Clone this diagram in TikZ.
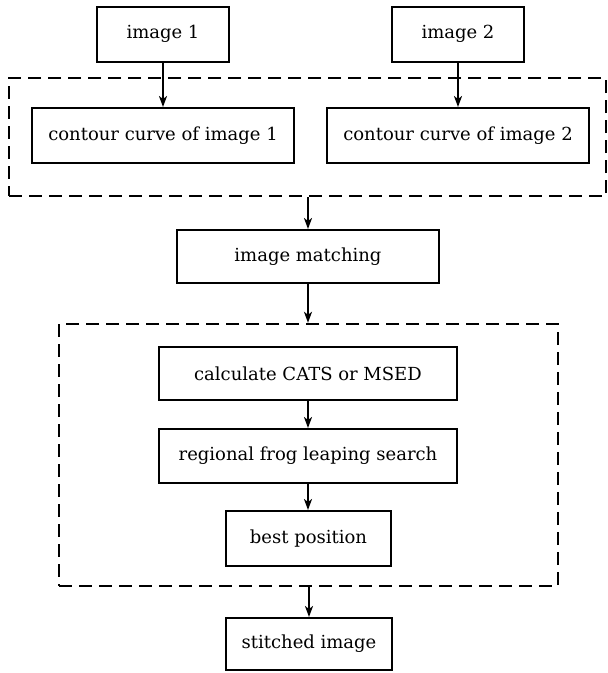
\documentclass[tikz,border=0pt]{standalone}
\usepackage{fontspec}
\setmainfont{DejaVu Serif}
\usetikzlibrary{arrows.meta}
\begin{document}
\begin{tikzpicture}[x=1pt,y=-1pt,
  box/.style={draw, line width=2pt, minimum width=#1, inner sep=0pt, font=\fontsize{18}{21}\selectfont},
  grp/.style={draw, line width=2.4pt, dash pattern=on 13pt off 7pt, inner sep=0pt},
  arr/.style={line width=1.8pt, -{Stealth[length=11pt,width=8pt,inset=3pt]}}]
\useasboundingbox (0,0) rectangle (608,673);
\node[grp, minimum width=597pt, minimum height=118pt] (g1) at (307.5,137) {};
\node[grp, minimum width=499pt, minimum height=262pt] (g2) at (308.5,455) {};
\node[box=132pt, minimum height=55pt] (i1) at (163,34) {image 1};
\node[box=132pt, minimum height=55pt] (i2) at (458,34) {image 2};
\node[box=262pt, minimum height=55pt] (c1) at (163,135.5) {contour curve of image 1};
\node[box=262pt, minimum height=55pt] (c2) at (458,135.5) {contour curve of image 2};
\node[box=262pt, minimum height=53pt] (m) at (308,256.5) {image matching};
\node[box=298pt, minimum height=53pt] (ca) at (308,373.5) {calculate CATS or MSED};
\node[box=298pt, minimum height=54pt] (fr) at (308,456) {regional frog leaping search};
\node[box=165pt, minimum height=55pt] (bp) at (308.5,538.5) {best position};
\node[box=166pt, minimum height=52pt] (st) at (309,644) {stitched image};
\draw[arr] (i1.south) -- (c1.north);
\draw[arr] (i2.south) -- (i2.south |- c2.north);
\draw[arr] (g1.south -| m.north) -- (m.north);
\draw[arr] (m.south) -- (m.south |- g2.north);
\draw[arr] (ca.south) -- (fr.north);
\draw[arr] (fr.south) -- (fr.south |- bp.north);
\draw[arr] (g2.south -| st.north) -- (st.north);
\end{tikzpicture}
\end{document}
